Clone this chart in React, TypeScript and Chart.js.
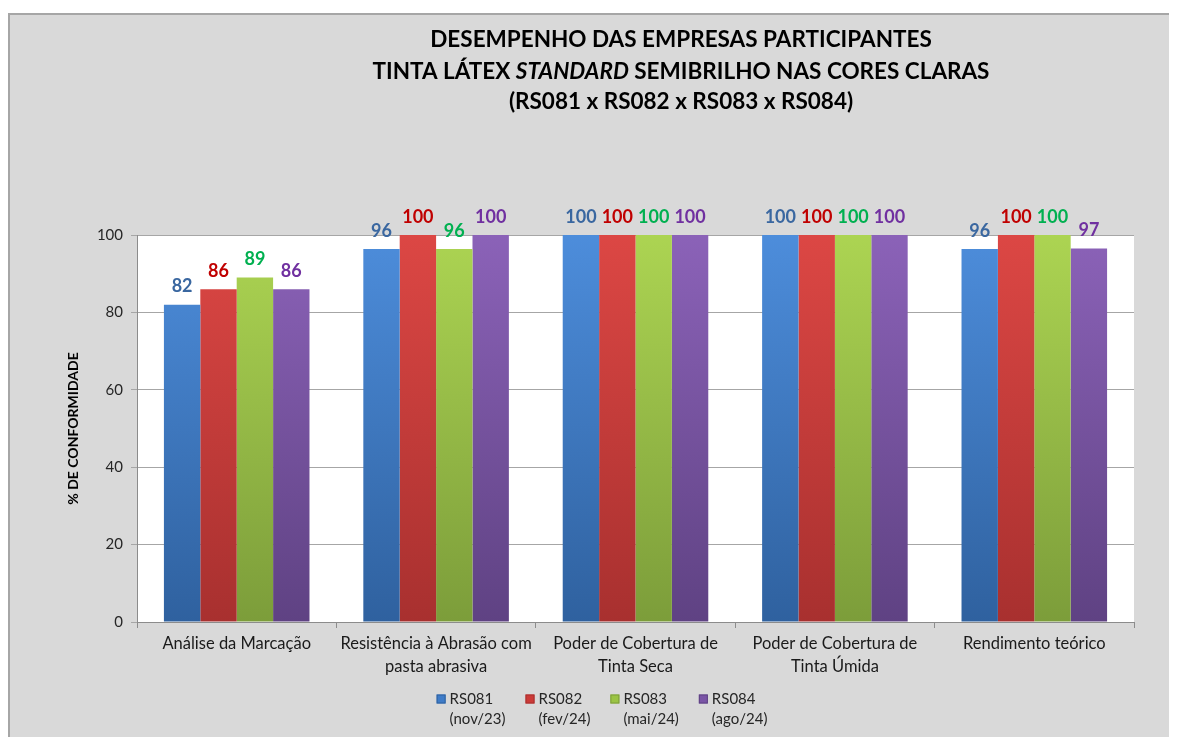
import React, { useEffect, useRef } from "react";
import { Chart, registerables } from "chart.js";

Chart.register(...registerables);

const categories: (string | string[])[] = [
  "Análise da Marcação",
  ["Resistência à Abrasão com", "pasta abrasiva"],
  ["Poder de Cobertura de", "Tinta Seca"],
  ["Poder de Cobertura de", "Tinta Úmida"],
  "Rendimento teórico",
];

const seriesNames: string[][] = [
  ["RS081", "(nov/23)"],
  ["RS082", "(fev/24)"],
  ["RS083", "(mai/24)"],
  ["RS084", "(ago/24)"],
];

const rs081 = [82, 96.4, 100, 100, 96.4];
const rs082 = [86, 100, 100, 100, 100];
const rs083 = [89, 96.4, 100, 100, 100];
const rs084 = [86, 100, 100, 100, 96.5];

const yTicks = [0, 20, 40, 60, 80, 100];

const titleLines = [
  [{ t: "DESEMPENHO DAS EMPRESAS PARTICIPANTES", i: false }],
  [
    { t: "TINTA LÁTEX ", i: false },
    { t: "STANDARD", i: true },
    { t: " SEMIBRILHO NAS CORES CLARAS", i: false },
  ],
  [{ t: "(RS081 x RS082 x RS083 x RS084)", i: false }],
];

const barTop = ["#4d8ddb", "#dc4744", "#acd452", "#8b62b8"];
const barBottom = ["#2f619f", "#a8302f", "#7c9d3a", "#5f4283"];
const legendColors = ["#3f7cc8", "#cc3b38", "#9bc444", "#7a55a6"];
const labelColors = ["#3a67a0", "#c00000", "#00b050", "#7030a0"];

const FONT = "Lato, 'Noto Sans', sans-serif";

const bgPlugin = {
  id: "bg",
  beforeDraw(chart: any) {
    const { ctx, chartArea } = chart;
    ctx.save();
    ctx.fillStyle = "#ffffff";
    ctx.fillRect(chartArea.left, chartArea.top, chartArea.right - chartArea.left, chartArea.bottom - chartArea.top);
    ctx.restore();
  },
};

const titlePlugin = {
  id: "richTitle",
  afterDraw(chart: any) {
    const { ctx } = chart;
    const cx = 671;
    const ys = [25, 57, 87];
    ctx.save();
    ctx.fillStyle = "#000000";
    ctx.textBaseline = "middle";
    titleLines.forEach((line, li) => {
      const fonts = line.map((p) => `${p.i ? "italic " : ""}bold 22.5px ${FONT}`);
      let total = 0;
      const widths = line.map((p, k) => {
        ctx.font = fonts[k];
        const w = ctx.measureText(p.t).width;
        total += w;
        return w;
      });
      let x = cx - total / 2;
      line.forEach((p, k) => {
        ctx.font = fonts[k];
        ctx.textAlign = "left";
        ctx.fillText(p.t, x, ys[li]);
        x += widths[k];
      });
    });
    ctx.restore();
  },
};

const legendPlugin = {
  id: "multiLegend",
  afterDraw(chart: any) {
    const { ctx } = chart;
    const box = 9;
    const textGap = 4;
    const itemGap = 20;
    const lineH = 20;
    const y0 = 684;
    ctx.save();
    ctx.font = `15px ${FONT}`;
    const items = chart.data.datasets.map((ds: any, i: number) => {
      const w = Math.max(...seriesNames[i].map((s) => ctx.measureText(s).width));
      return { w: box + textGap + w, i };
    });
    const total = items.reduce((a: number, it: any) => a + it.w, 0) + itemGap * (items.length - 1);
    let x = 592 - total / 2;
    ctx.textBaseline = "middle";
    ctx.textAlign = "left";
    items.forEach((it: any) => {
      ctx.fillStyle = legendColors[it.i];
      ctx.fillRect(x, y0 - box / 2, box, box);
      ctx.strokeStyle = barBottom[it.i];
      ctx.lineWidth = 1;
      ctx.strokeRect(x + 0.5, y0 - box / 2 + 0.5, box - 1, box - 1);
      ctx.fillStyle = "#262626";
      seriesNames[it.i].forEach((s, k) => {
        ctx.fillText(s, x + box + textGap, y0 + k * lineH);
      });
      x += it.w + itemGap;
    });
    ctx.restore();
  },
};

const labelPlugin = {
  id: "valueLabels",
  afterDatasetsDraw(chart: any) {
    const { ctx } = chart;
    ctx.save();
    ctx.font = `bold 18px ${FONT}`;
    ctx.textAlign = "center";
    ctx.textBaseline = "bottom";
    chart.data.datasets.forEach((ds: any, di: number) => {
      const meta = chart.getDatasetMeta(di);
      ctx.fillStyle = labelColors[di];
      meta.data.forEach((el: any, i: number) => {
        ctx.fillText(String(Math.round(ds.data[i])), el.x, el.y - 9);
      });
    });
    ctx.restore();
  },
};

function grad(di: number) {
  return (c: any) => {
    const { chart } = c;
    const area = chart.chartArea;
    if (!area) return barTop[di];
    const g = chart.ctx.createLinearGradient(0, area.top, 0, area.bottom);
    g.addColorStop(0, barTop[di]);
    g.addColorStop(1, barBottom[di]);
    return g;
  };
}

export default function App() {
  const ref = useRef<HTMLCanvasElement | null>(null);
  useEffect(() => {
    if (!ref.current) return;
    document.documentElement.style.overflow = "hidden";
    document.body.style.overflow = "hidden";
    const all = [rs081, rs082, rs083, rs084];
    const chart = new Chart(ref.current, {
      type: "bar",
      data: {
        labels: categories,
        datasets: all.map((d, di) => ({
          label: seriesNames[di].join(" "),
          data: d,
          backgroundColor: grad(di),
          borderColor: barBottom[di],
          borderWidth: 0,
          categoryPercentage: 0.73,
          barPercentage: 1,
        })),
      },
      options: {
        animation: false,
        responsive: false,
        maintainAspectRatio: false,
        layout: { padding: { top: 220, left: 55, right: 43, bottom: 67 } },
        plugins: {
          title: { display: false },
          tooltip: { enabled: false },
          legend: { display: false },
        },
        scales: {
          x: {
            offset: true,
            afterFit: (s: any) => {
              s.height = 54;
            },
            grid: {
              display: true,
              offset: true,
              drawOnChartArea: false,
              drawTicks: true,
              tickLength: 6,
              color: "#8c8c8c",
            },
            border: { color: "#8c8c8c" },
            ticks: {
              color: "#1a1a1a",
              font: { family: FONT, size: 16.5, lineHeight: 1.35 },
              padding: 5,
              maxRotation: 0,
              autoSkip: false,
            },
          },
          y: {
            min: 0,
            max: 100,
            afterBuildTicks: (s: any) => {
              s.ticks = yTicks.map((v) => ({ value: v }));
            },
            afterFit: (s: any) => {
              s.width = 72;
            },
            grid: { color: "#a6a6a6", tickLength: 6, drawTicks: true },
            border: { color: "#8c8c8c" },
            ticks: {
              color: "#262626",
              font: { family: FONT, size: 15 },
              padding: 8,
            },
            title: {
              display: true,
              text: "% DE CONFORMIDADE",
              color: "#000000",
              font: { family: FONT, size: 14, weight: "bold" },
              padding: { top: 0, bottom: 0 },
            },
          },
        },
      },
      plugins: [bgPlugin, labelPlugin, titlePlugin, legendPlugin],
    });
    return () => chart.destroy();
  }, []);

  return (
    <div
      style={{
        marginTop: 5,
        width: 1169,
        height: 730,
        background: "#d9d9d9",
        borderTop: "2px solid #a6a6a6",
        borderLeft: "2px solid #a6a6a6",
        boxSizing: "border-box",
        overflow: "hidden",
      }}
    >
      <canvas ref={ref} width={1167} height={728} style={{ display: "block" }} />
    </div>
  );
}
